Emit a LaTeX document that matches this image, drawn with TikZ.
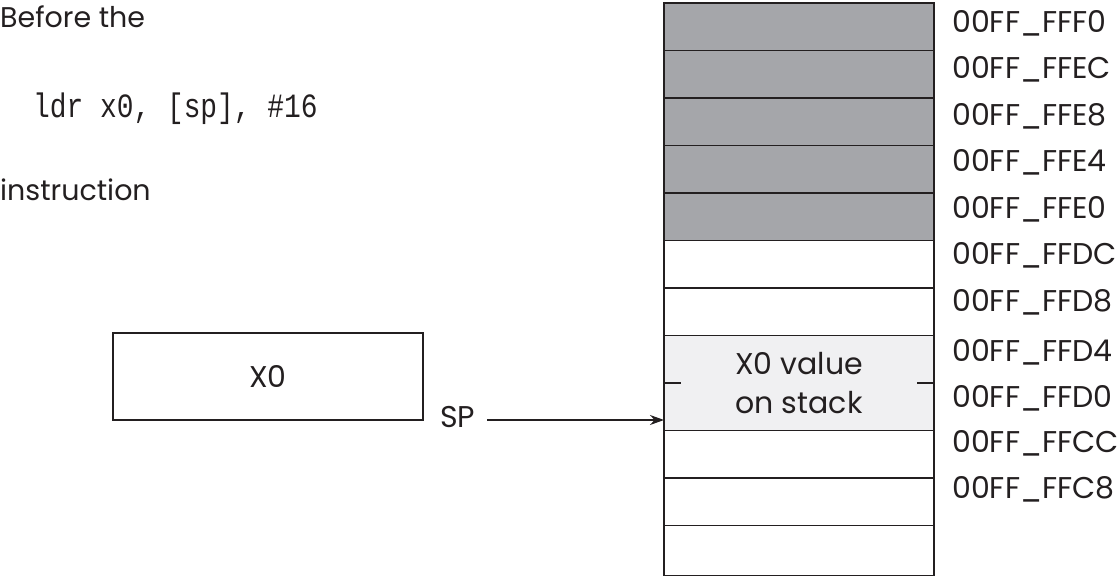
\documentclass[tikz,border=0pt]{standalone}
\usepackage{fontspec}
\setmainfont{Poppins}
\newfontfamily\codefont{Liberation Mono}
\usetikzlibrary{arrows.meta}
\definecolor{ink}{HTML}{231F20}
\definecolor{darkcell}{HTML}{A5A6AA}
\definecolor{lightcell}{HTML}{F0F0F2}
\tikzset{
  cell/.style={draw=ink, line width=1.6pt, minimum width=270pt, minimum height=47.5pt, inner sep=0pt, outer sep=0pt},
  graycell/.style={cell, fill=darkcell},
  whitecell/.style={cell, fill=white},
  addr/.style={anchor=west, inner sep=0pt, font=\fontsize{30}{32}\selectfont, text=ink},
  lbl/.style={inner sep=0pt, font=\fontsize{30}{32}\selectfont, text=ink},
  note/.style={inner sep=0pt, font=\fontsize{28.5}{30}\selectfont, text=ink},
}
\begin{document}
\begin{tikzpicture}[x=1pt,y=-1pt]
\useasboundingbox (0,0) rectangle (1119,578);
% stack cells
\node[graycell] (c1) at (799,26.75) {};
\node[graycell] (c2) at (799,74.25) {};
\node[graycell] (c3) at (799,121.75) {};
\node[graycell] (c4) at (799,169.25) {};
\node[graycell] (c5) at (799,216.75) {};
\node[whitecell] (c6) at (799,264.25) {};
\node[whitecell] (c7) at (799,311.75) {};
\node[cell, fill=lightcell, minimum height=95pt, align=center, font=\fontsize{30}{39}\selectfont, text=ink] (cv) at (799,383) {X0 value\\on stack};
\node[whitecell] (c10) at (799,454.25) {};
\node[whitecell] (c11) at (799,501.75) {};
\node[whitecell, minimum height=50pt] (c12) at (799,550.5) {};
\draw[ink, line width=1.3pt] (cv.west) -- ++(17,0);
\draw[ink, line width=1.3pt] (cv.east) -- ++(-17,0);
% addresses
\node[addr] (a1) at (952,23) {00FF\_FFF0};
\node[addr] (a2) at (952,69.5) {00FF\_FFEC};
\node[addr] (a3) at (952,116) {00FF\_FFE8};
\node[addr] (a4) at (952,162.5) {00FF\_FFE4};
\node[addr] (a5) at (952,209) {00FF\_FFE0};
\node[addr] (a6) at (952,255.5) {00FF\_FFDC};
\node[addr] (a7) at (952,302) {00FF\_FFD8};
\node[addr] (a8) at (952,352) {00FF\_FFD4};
\node[addr] (a9) at (952,398) {00FF\_FFD0};
\node[addr] (a10) at (952,443) {00FF\_FFCC};
\node[addr] (a11) at (952,489) {00FF\_FFC8};
% left texts
\node[note, anchor=base west] (t1) at (0,28) {Before the};
\node[inner sep=0pt, anchor=base west, text=ink] (t2) at (33,117) {\scalebox{0.82}[1]{\codefont\fontsize{34}{36}\selectfont ldr x0, [sp], \#16}};
\node[note, anchor=base west] (t3) at (0,200) {instruction};
% X0 register
\node[draw=ink, line width=1.4pt, minimum width=310pt, minimum height=87pt, inner sep=0pt, lbl] (x0) at (268,376.5) {X0};
% SP pointer
\node[lbl, anchor=base west] (sp) at (440,427) {SP};
\coordinate (spt) at (664,420);
\coordinate (sps) at (487,420);
\draw[ink, line width=1.2pt, -{Stealth[length=14pt,width=10pt]}] (sps) -- (spt);
\end{tikzpicture}
\end{document}
